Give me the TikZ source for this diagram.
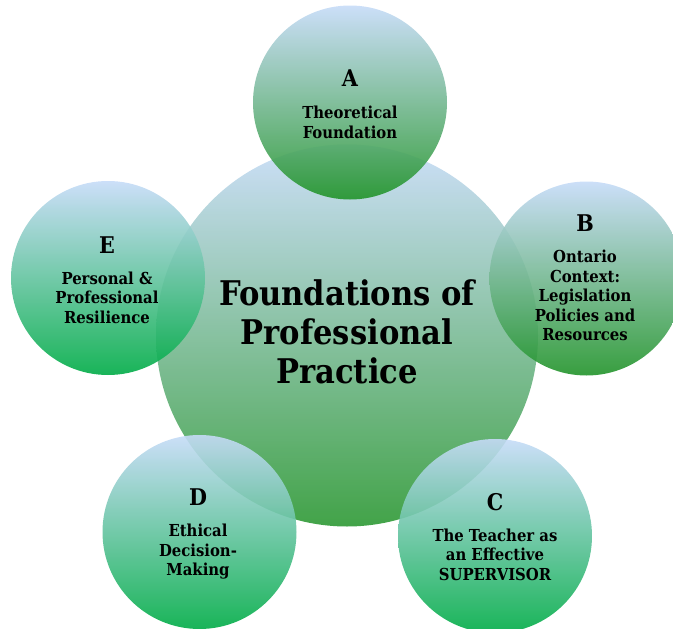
\documentclass[tikz,border=0pt]{standalone}
\usepackage{fontspec}
\setmainfont{DejaVu Serif Condensed}
\begin{document}
\begin{tikzpicture}[x=1pt,y=1pt,
  bigc/.style={circle, minimum size=382pt, inner sep=0pt, top color=cTop, middle color=cMidC, bottom color=cBotC, fill opacity=0.88},
  blueg/.style={circle, minimum size=194pt, inner sep=0pt, top color=cTop, middle color=cMidA, bottom color=cBotA, fill opacity=0.9},
  teal/.style={circle, minimum size=194pt, inner sep=0pt, top color=cTop, middle color=cMidE, bottom color=cBotE, fill opacity=0.9},
  letter/.style={font=\fontsize{23}{26}\selectfont\bfseries},
  lab/.style={align=center, font=\fontsize{16.5}{19.5}\selectfont\bfseries},
  title/.style={align=center, font=\fontsize{34}{39}\selectfont\bfseries}]
\definecolor{cTop}{HTML}{C6DBF8}
\definecolor{cMidC}{HTML}{98C6BA}
\definecolor{cBotC}{HTML}{28962F}
\definecolor{cMidA}{HTML}{88C0AA}
\definecolor{cBotA}{HTML}{22942A}
\definecolor{cMidE}{HTML}{7ACBBD}
\definecolor{cBotE}{HTML}{00AC46}
\useasboundingbox (0,0) rectangle (673,-629);
\node[bigc] (cM) at (347,-335.5) {};
\node[blueg] (cA) at (350,-102.5) {};
\node[blueg] (cB) at (586.5,-278.5) {};
\node[teal] (cE) at (108,-278) {};
\node[teal] (cD) at (199.5,-532) {};
\node[teal] (cC) at (495,-536) {};
\node[title] (tM) at (347,-332) {Foundations of\\Professional\\Practice};
\node[letter] (lA) at (350,-78) {A};
\node[lab] (tA) at (350,-122.5) {Theoretical\\Foundation};
\node[letter] (lB) at (585,-223) {B};
\node[lab] (tB) at (585,-295.5) {Ontario\\Context:\\Legislation\\Policies and\\Resources};
\node[letter] (lE) at (107,-245) {E};
\node[lab] (tE) at (107,-297.5) {Personal \&\\Professional\\Resilience};
\node[letter] (lD) at (198,-497) {D};
\node[lab] (tD) at (198,-552) {Ethical\\Decision-\\Making};
\node[letter] (lC) at (495,-502) {C};
\node[lab] (tC) at (495,-554.5) {The Teacher as\\an Effective\\SUPERVISOR};
\end{tikzpicture}
\end{document}
